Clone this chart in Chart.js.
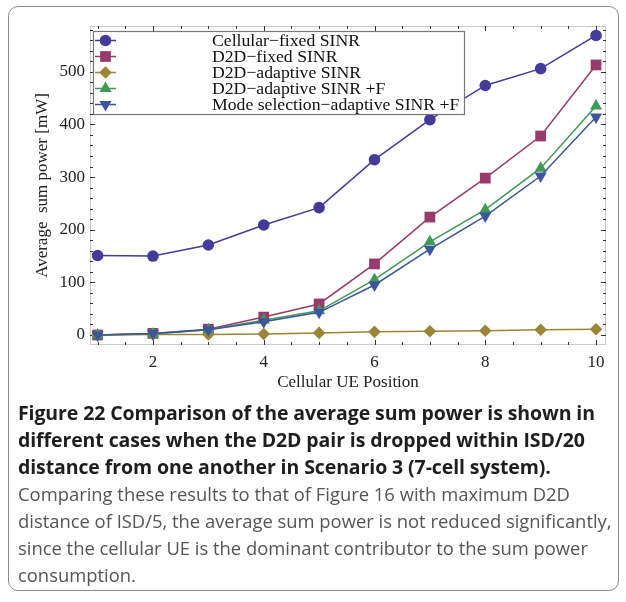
<!DOCTYPE html>
<html>
<head>
<meta charset="utf-8">
<script src="https://cdn.jsdelivr.net/npm/chart.js@4.4.1/dist/chart.umd.min.js"></script>
<style>
  html, body { margin: 0; padding: 0; background: #fff; }
  #wrap { position: relative; width: 626px; height: 602px; overflow: hidden; }
  #box { position: absolute; left: 8px; top: 6px; width: 611px; height: 585px; border: 1px solid #8c8c8c; border-radius: 10px; box-sizing: border-box; }
  #plot { position: absolute; left: 0; top: 0; }
  #caption { position: absolute; left: 18px; top: 399px; font-family: "Open Sans", "Noto Sans", sans-serif; line-height: 27px; white-space: nowrap; }
  #caption .bold { font-weight: bold; font-size: 19.5px; color: #1e1e1e; letter-spacing: -0.1px; }
  #caption .body { font-size: 18.4px; color: #555; }
</style>
</head>
<body>
<div id="wrap">
  <div id="box"></div>
  <canvas id="plot" width="626" height="400"></canvas>
  <div id="caption">
    <div class="bold">Figure 22 Comparison of the average sum power is shown in<br>different cases when the D2D pair is dropped within ISD/20<br>distance from one another in Scenario 3 (7-cell system).</div>
    <div class="body">Comparing these results to that of Figure 16 with maximum D2D<br>distance of ISD/5, the average sum power is not reduced significantly,<br>since the cellular UE is the dominant contributor to the sum power<br>consumption.</div>
  </div>
</div>
<script>
// values (mW)
const positions = [1, 2, 3, 4, 5, 6, 7, 8, 9, 10];
const cellularFixed = [151, 150, 171, 209, 242, 333, 409, 474, 506, 569];
const d2dFixed = [0, 3, 11, 34, 59, 135, 224, 298, 378, 513];
const d2dAdaptive = [0, 1, 1, 2, 4, 6, 7, 8, 10, 11];
const d2dAdaptiveF = [0, 2, 10, 28, 46, 105, 177, 238, 317, 435];
const modeSelection = [0, 3, 10, 25, 43, 95, 163, 226, 302, 414];
const seriesNames = ['Cellular\u2212fixed SINR', 'D2D\u2212fixed SINR', 'D2D\u2212adaptive SINR',
  'D2D\u2212adaptive SINR +F', 'Mode selection\u2212adaptive SINR +F'];
const xTickLabels = [2, 4, 6, 8, 10];
const yTickLabels = [0, 100, 200, 300, 400, 500];

const serif = 'Liberation Serif';

var makeSet = function (i, values, color, style, radius, rotation) {
  return {
    label: seriesNames[i],
    data: positions.map((p, k) => ({ x: p, y: values[k] })),
    borderColor: color,
    backgroundColor: color,
    borderWidth: 1.5,
    pointStyle: style,
    pointRadius: radius,
    pointRotation: rotation,
    pointBorderWidth: 0,
    pointHoverRadius: radius,
    order: 4 - i   // later series painted on top, like the original
  };
};

// frame with inward ticks on all four sides
const frameTicks = {
  id: 'frameTicks',
  beforeDatasetsDraw(chart) {
    const { ctx, chartArea: a, scales: { x, y } } = chart;
    ctx.save();
    ctx.strokeStyle = '#cccccc';
    ctx.lineWidth = 1;
    ctx.strokeRect(a.left + 0.5, a.top + 0.5, a.right - a.left - 1, a.bottom - a.top - 1);
    ctx.strokeStyle = '#333';
    ctx.beginPath();
    x.ticks.forEach(t => {
      const px = Math.round(x.getPixelForValue(t.value)) + 0.5;
      const len = t.label ? 5 : 3;
      ctx.moveTo(px, a.bottom); ctx.lineTo(px, a.bottom - len);
      ctx.moveTo(px, a.top); ctx.lineTo(px, a.top + len);
    });
    y.ticks.forEach(t => {
      const py = Math.round(y.getPixelForValue(t.value)) + 0.5;
      const len = t.label ? 5 : 3;
      ctx.moveTo(a.left, py); ctx.lineTo(a.left + len, py);
      ctx.moveTo(a.right, py); ctx.lineTo(a.right - len, py);
    });
    ctx.stroke();
    ctx.restore();
  }
};

// boxed legend in the upper left of the plot
const boxLegend = {
  id: 'boxLegend',
  afterDatasetsDraw(chart) {
    const ctx = chart.ctx;
    const bx = 93.5, by = 31.5, bw = 371, bh = 83;
    ctx.save();
    ctx.fillStyle = '#fff';
    ctx.fillRect(bx, by, bw, bh);
    ctx.strokeStyle = '#777';
    ctx.lineWidth = 1.2;
    ctx.strokeRect(bx, by, bw, bh);
    chart.data.datasets.forEach((ds, i) => {
      const cy = 40.5 + i * 16;
      ctx.strokeStyle = ds.borderColor;
      ctx.fillStyle = ds.backgroundColor;
      ctx.lineWidth = 1.5;
      ctx.beginPath();
      ctx.moveTo(95, cy); ctx.lineTo(116, cy);
      ctx.stroke();
      Chart.helpers.drawPoint(ctx, {
        pointStyle: ds.pointStyle, rotation: ds.pointRotation,
        radius: ds.pointRadius, borderWidth: 0
      }, 105.5, cy);
      ctx.fillStyle = '#111';
      ctx.font = '17.7px "' + serif + '"';
      ctx.textBaseline = 'middle';
      ctx.textAlign = 'left';
      ctx.fillText(ds.label, 212, cy + 1);
    });
    ctx.restore();
  }
};

new Chart(document.getElementById('plot'), {
  type: 'line',
  data: {
    datasets: [
      makeSet(0, cellularFixed, '#433a9a', 'circle', 5.8, 0),
      makeSet(1, d2dFixed, '#983b6c', 'rect', 7.6, 0),
      makeSet(2, d2dAdaptive, '#9a8636', 'rectRot', 6.3, 0),
      makeSet(3, d2dAdaptiveF, '#3f9a55', 'triangle', 7, 0),
      makeSet(4, modeSelection, '#3d569b', 'triangle', 7, 180)
    ]
  },
  options: {
    responsive: false,
    animation: false,
    layout: { padding: { left: 0, top: 26, right: 20, bottom: 0 } },
    plugins: { legend: { display: false }, tooltip: { enabled: false } },
    scales: {
      x: {
        type: 'linear', min: 0.863, max: 10.18,
        grid: { display: false, drawTicks: false },
        border: { display: false },
        ticks: {
          stepSize: 0.5, autoSkip: false, includeBounds: false, maxRotation: 0, padding: 7,
          color: '#222', font: { family: serif, size: 17 },
          callback: v => xTickLabels.includes(v) ? String(v) : ''
        },
        title: {
          display: true, text: 'Cellular UE Position', color: '#222',
          font: { family: serif, size: 17 }, padding: { top: 0, bottom: 7 }
        },
        afterFit: s => { s.height = 55; }
      },
      y: {
        type: 'linear', min: -19, max: 587,
        grid: { display: false, drawTicks: false },
        border: { display: false },
        ticks: {
          stepSize: 20, autoSkip: false, includeBounds: false, padding: 5,
          color: '#222', font: { family: serif, size: 17 },
          callback: v => yTickLabels.includes(v) ? String(v) : ''
        },
        title: {
          display: true, text: 'Average  sum power [mW]', color: '#222',
          font: { family: serif, size: 17 }, padding: { top: 32, bottom: 0 }
        },
        afterFit: s => { s.width = 90; }
      }
    }
  },
  plugins: [frameTicks, boxLegend]
});
</script>
</body>
</html>
